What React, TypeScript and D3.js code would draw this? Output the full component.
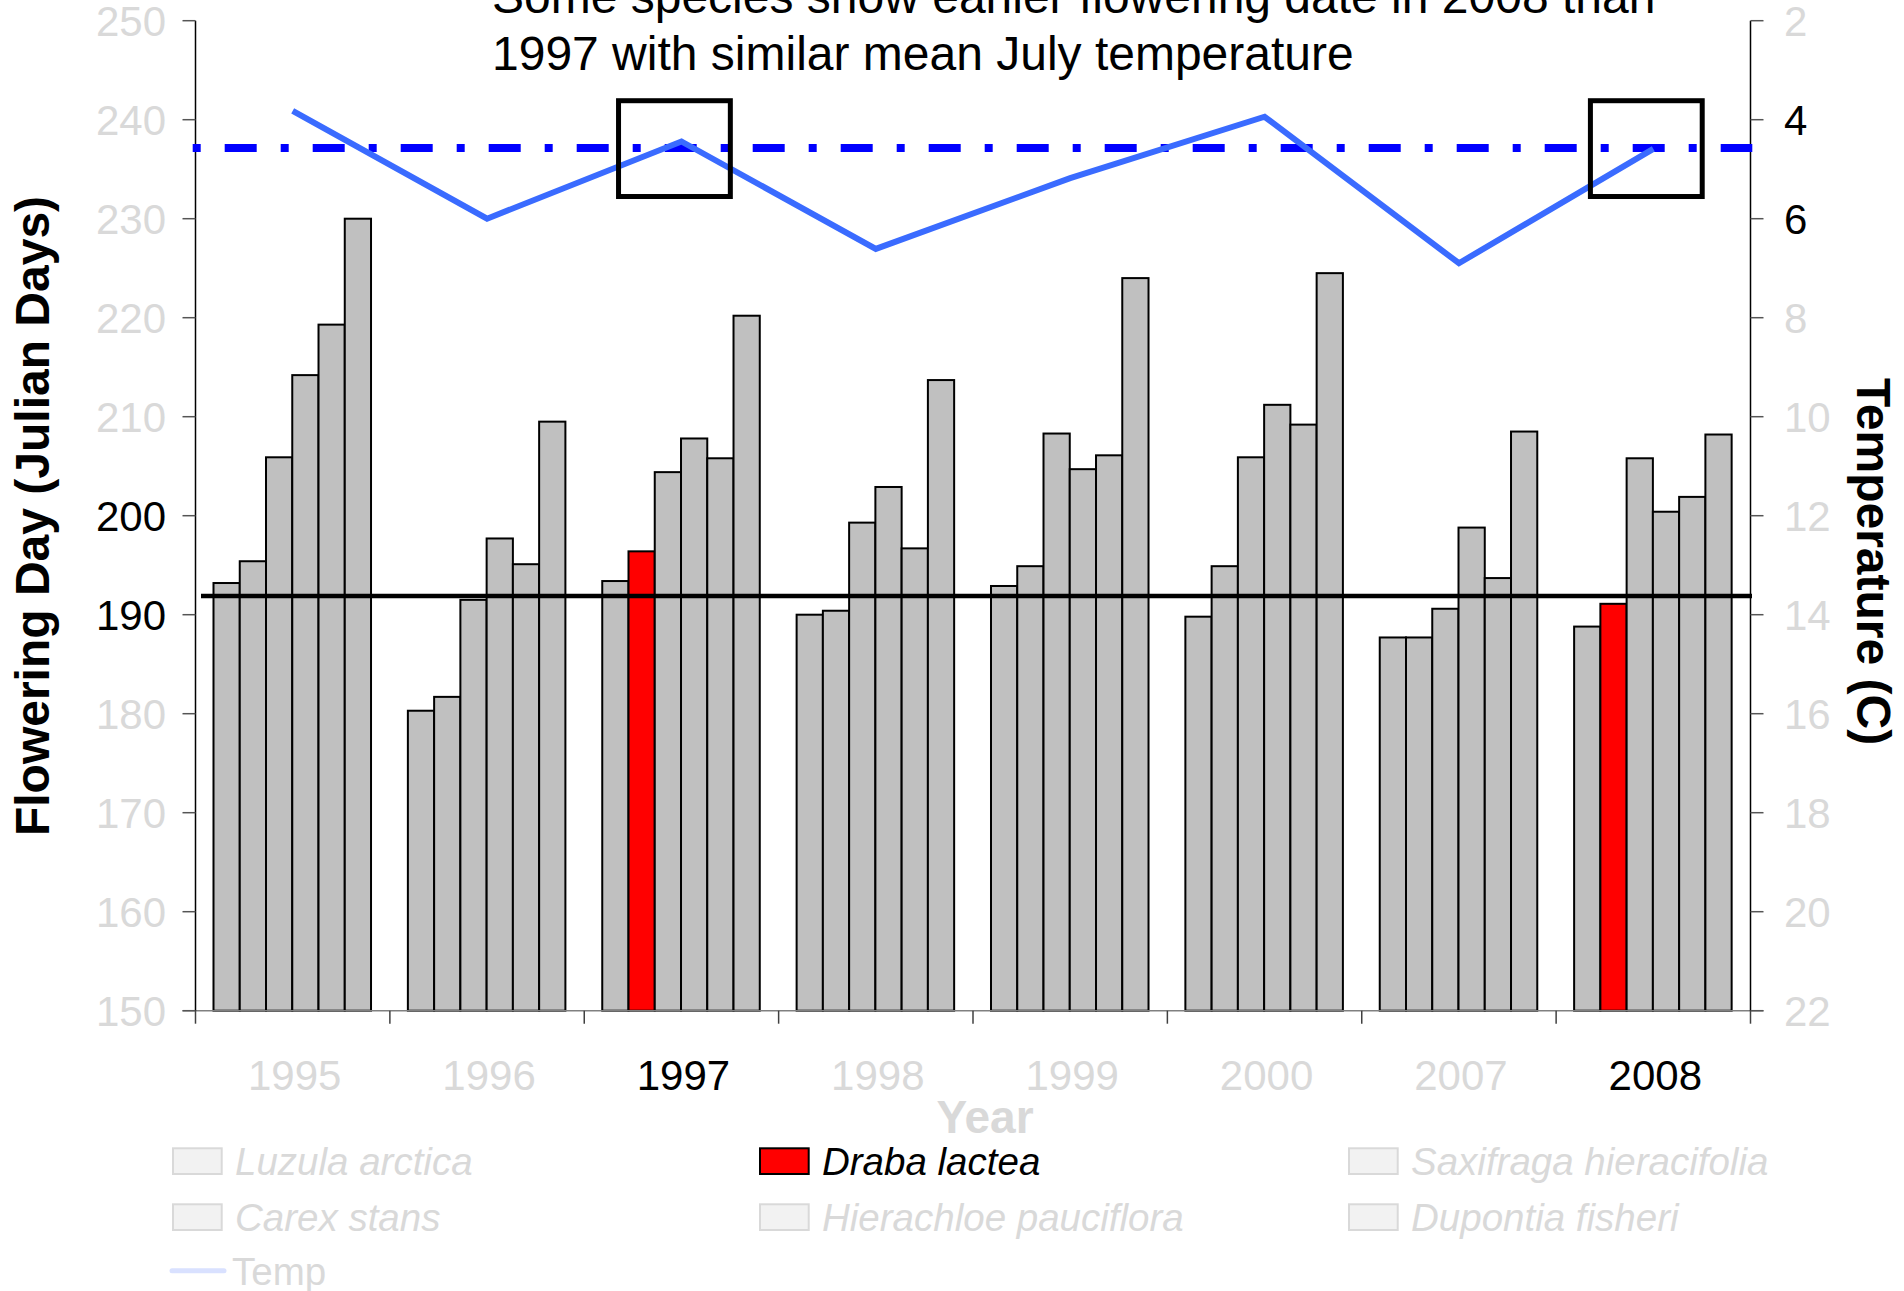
import React from "react";
import * as d3 from "d3";

// ---- data ----
const years = ["1995", "1996", "1997", "1998", "1999", "2000", "2007", "2008"];
const seriesNames = [
  "Luzula arctica",
  "Draba lactea",
  "Saxifraga hieracifolia",
  "Carex stans",
  "Hierachloe pauciflora",
  "Dupontia fisheri",
];
const luzulaArctica = [193.2, 180.3, 193.4, 190.0, 192.9, 189.8, 187.7, 188.8];
const drabaLactea = [195.4, 181.7, 196.4, 190.4, 194.9, 194.9, 187.7, 191.1];
const saxifragaHieracifolia = [205.9, 191.5, 204.4, 199.3, 208.3, 205.9, 190.6, 205.8];
const carexStans = [214.2, 197.7, 207.8, 202.9, 204.7, 211.2, 198.8, 200.4];
const hierachloePauciflora = [219.3, 195.1, 205.8, 196.7, 206.1, 209.2, 193.7, 201.9];
const dupontiaFisheri = [230.0, 209.5, 220.2, 213.7, 224.0, 224.5, 208.5, 208.2];
const seriesValues = [
  luzulaArctica,
  drabaLactea,
  saxifragaHieracifolia,
  carexStans,
  hierachloePauciflora,
  dupontiaFisheri,
];
const temperature = [3.82, 6.0, 4.44, 6.61, 5.18, 3.94, 6.9, 4.59];
const meanFlowering = 191.9;
const meanTemperature = 4.57;
const highlightYears = ["1997", "2008"];
const highlightSeries = "Draba lactea";
const leftTicks = [150, 160, 170, 180, 190, 200, 210, 220, 230, 240, 250];
const rightTicks = [2, 4, 6, 8, 10, 12, 14, 16, 18, 20, 22];
const leftDarkTicks = [190, 200];
const rightDarkTicks = [4, 6];
const titleLines = [
  "Some species show earlier flowering date in 2008 than",
  "1997 with similar mean July temperature",
];

// ---- style ----
const FONT = "'Liberation Sans', Arial, Helvetica, sans-serif";
const LIGHT = "#d9d9d9";
const BAR_GRAY = "#c0c0c0";
const RED = "#ff0000";
const TEMP_BLUE = "#3a6bff";
const REF_BLUE = "#0000ff";

const W = 1904;
const H = 1291;
const left = 195.5;
const right = 1750.5;
const top = 20.7;
const bottom = 1010.7;

export default function App() {
  const x0 = d3.scaleBand<string>().domain(years).range([left, right]);
  const bw = x0.bandwidth();
  const x1 = d3.scaleBand<string>().domain(seriesNames).range([bw * 0.0926, bw * 0.903]);
  const y = d3.scaleLinear().domain([150, 250]).range([bottom, top]);
  const yT = d3.scaleLinear().domain([2, 22]).range([top, bottom]);

  const tempLine = d3
    .line<number>()
    .x((_, i) => (x0(years[i]) as number) + bw / 2)
    .y((d) => yT(d));

  const legendCols = [173, 760, 1349];
  const legendRows = [1148.3, 1204.3, 1258];
  const legendItems = [...seriesNames.map((n) => ({ name: n, type: "bar" })), { name: "Temp", type: "line" }];
  // Excel ordering: row-major across three columns
  const legendPos = legendItems.map((_, i) => ({ c: i % 3, r: Math.floor(i / 3) }));

  return (
    <svg
      width={W}
      height={H}
      style={{ position: "absolute", left: 0, top: 0, display: "block", background: "#fff" }}
      fontFamily={FONT}
    >
      {/* bars */}
      {years.map((yr, gi) => (
        <g key={yr} transform={`translate(${x0(yr)},0)`}>
          {seriesNames.map((s, si) => {
            const v = seriesValues[si][gi];
            const isHi = s === highlightSeries && highlightYears.includes(yr);
            return (
              <rect
                key={s}
                x={x1(s)}
                y={y(v)}
                width={x1.bandwidth()}
                height={y(150) - y(v)}
                fill={isHi ? RED : BAR_GRAY}
                stroke="#000"
                strokeWidth={2}
              />
            );
          })}
        </g>
      ))}

      {/* bottom axis */}
      <line x1={left - 13} x2={right + 13} y1={bottom} y2={bottom} stroke="#808080" strokeWidth={1.5} />
      {d3.range(years.length + 1).map((i) => {
        const xx = left + i * bw;
        return <line key={i} x1={xx} x2={xx} y1={bottom} y2={bottom + 13} stroke="#404040" strokeWidth={1.5} />;
      })}
      {years.map((yr) => (
        <text
          key={yr}
          x={(x0(yr) as number) + bw / 2 + 2}
          y={1090}
          fontSize={42}
          textAnchor="middle"
          fill={highlightYears.includes(yr) ? "#000" : LIGHT}
        >
          {yr}
        </text>
      ))}
      <text x={985} y={1133} fontSize={46} fontWeight="bold" textAnchor="middle" fill={LIGHT}>
        Year
      </text>

      {/* left axis */}
      <line x1={left} x2={left} y1={top} y2={bottom} stroke="#000" strokeWidth={1.5} />
      {leftTicks.map((t) => (
        <g key={t}>
          <line x1={left - 13} x2={left} y1={y(t)} y2={y(t)} stroke="#555" strokeWidth={1.5} />
          <text
            x={166}
            y={y(t) + 15.5}
            fontSize={42}
            textAnchor="end"
            fill={leftDarkTicks.includes(t) ? "#000" : LIGHT}
          >
            {t}
          </text>
        </g>
      ))}
      <text
        transform={`translate(49,516) rotate(-90)`}
        fontSize={48}
        fontWeight="bold"
        textAnchor="middle"
        fill="#000"
      >
        Flowering Day (Julian Days)
      </text>

      {/* right axis */}
      <line x1={right} x2={right} y1={top} y2={bottom} stroke="#000" strokeWidth={1.5} />
      {rightTicks.map((t) => (
        <g key={t}>
          <line x1={right} x2={right + 13} y1={yT(t)} y2={yT(t)} stroke="#555" strokeWidth={1.5} />
          <text
            x={1784}
            y={yT(t) + 15.5}
            fontSize={42}
            textAnchor="start"
            fill={rightDarkTicks.includes(t) ? "#000" : LIGHT}
          >
            {t}
          </text>
        </g>
      ))}
      <text
        transform={`translate(1857,561.6) rotate(90)`}
        fontSize={48}
        fontWeight="bold"
        textAnchor="middle"
        fill="#000"
      >
        Temperature (C)
      </text>

      {/* mean flowering line */}
      <line x1={201} x2={1752} y1={y(meanFlowering)} y2={y(meanFlowering)} stroke="#000" strokeWidth={4.5} />

      {/* mean temperature dash-dot line */}
      <line
        x1={192.7}
        x2={1752.3}
        y1={yT(meanTemperature)}
        y2={yT(meanTemperature)}
        stroke={REF_BLUE}
        strokeWidth={8}
        strokeDasharray="8 24 32 24"
      />

      {/* temperature line */}
      <path d={tempLine(temperature) as string} fill="none" stroke={TEMP_BLUE} strokeWidth={6} strokeLinejoin="miter" />

      {/* highlight boxes */}
      {highlightYears.map((yr) => {
        const cx = (x0(yr) as number) + bw / 2 - 7;
        const cy = yT(meanTemperature) + 0.7;
        return (
          <rect
            key={yr}
            x={cx - 55.9}
            y={cy - 47.9}
            width={111.8}
            height={95.8}
            fill="none"
            stroke="#000"
            strokeWidth={5}
          />
        );
      })}

      {/* title */}
      {titleLines.map((l, i) => (
        <text key={i} x={492} y={13.3 + i * 56.7} fontSize={48} fill="#000">
          {l}
        </text>
      ))}

      {/* legend */}
      {legendItems.map((it, i) => {
        const { c, r } = legendPos[i];
        const lx = legendCols[c];
        const ly = legendRows[r];
        const isHi = it.name === highlightSeries;
        return (
          <g key={it.name}>
            {it.type === "bar" ? (
              <rect
                x={lx}
                y={ly}
                width={48.7}
                height={25.7}
                fill={isHi ? RED : "#f2f2f2"}
                stroke={isHi ? "#000" : LIGHT}
                strokeWidth={2}
              />
            ) : (
              <line x1={lx - 1} x2={lx + 51} y1={ly + 12.7} y2={ly + 12.7} stroke="#d9e1ff" strokeWidth={5} strokeLinecap="round" />
            )}
            <text
              x={it.type === "bar" ? lx + 62 : lx + 59}
              y={ly + 26.5}
              fontSize={38.5}
              fontStyle={it.type === "bar" ? "italic" : "normal"}
              fill={isHi ? "#000" : LIGHT}
            >
              {it.name}
            </text>
          </g>
        );
      })}
    </svg>
  );
}
